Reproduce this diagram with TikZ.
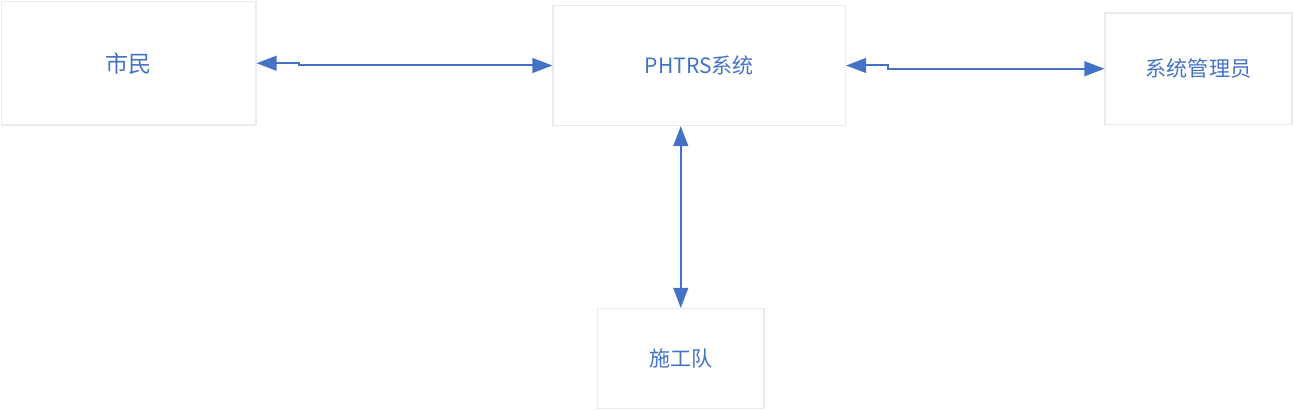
\documentclass[tikz,border=0pt]{standalone}
\usepackage{fontspec}
\setmainfont{Noto Sans CJK SC}
\usetikzlibrary{arrows.meta}
\definecolor{linkblue}{RGB}{68,114,196}
\definecolor{boxline}{RGB}{232,235,244}

\begin{document}
\begin{tikzpicture}[x=0.75pt,y=0.75pt,yscale=-1,xscale=1,
	entity/.style={draw=boxline, line width=0.8pt, inner sep=0pt, text=linkblue, font=\fontsize{15.8}{18}\selectfont},
	link/.style={draw=linkblue, line width=1.5pt, {Triangle[length=15pt,width=11pt]}-{Triangle[length=15pt,width=11pt]}}]
	\useasboundingbox (0,0) rectangle (1294,410);
	
	%Shape: Rectangle [id:shimin]
	\node [entity, minimum width=254.5*0.75pt, minimum height=123.5*0.75pt, font=\fontsize{17.3}{20}\selectfont] (shimin) at (128.75,63.25) {市民};
	%Shape: Rectangle [id:xitong]
	\node [entity, minimum width=292.5*0.75pt, minimum height=120*0.75pt] (xitong) at (699.25,65.5) {PHTRS系统};
	%Shape: Rectangle [id:guanliyuan]
	\node [entity, minimum width=187*0.75pt, minimum height=111.5*0.75pt] (guanliyuan) at (1198.5,68.75) {系统管理员};
	%Shape: Rectangle [id:shigongdui]
	\node [entity, minimum width=166.5*0.75pt, minimum height=100*0.75pt] (shigongdui) at (680.75,358.5) {施工队};
	
	%Straight Lines [id:shimin-xitong]
	\draw [link] (shimin.east) -- ++(42,0) |- (xitong.west);
	%Straight Lines [id:xitong-guanliyuan]
	\draw [link] (xitong.east) -- ++(42,0) |- (guanliyuan.west);
	%Straight Lines [id:xitong-shigongdui]
	\draw [link] (shigongdui.north |- xitong.south) -- (shigongdui.north);
	
\end{tikzpicture}
\end{document}
